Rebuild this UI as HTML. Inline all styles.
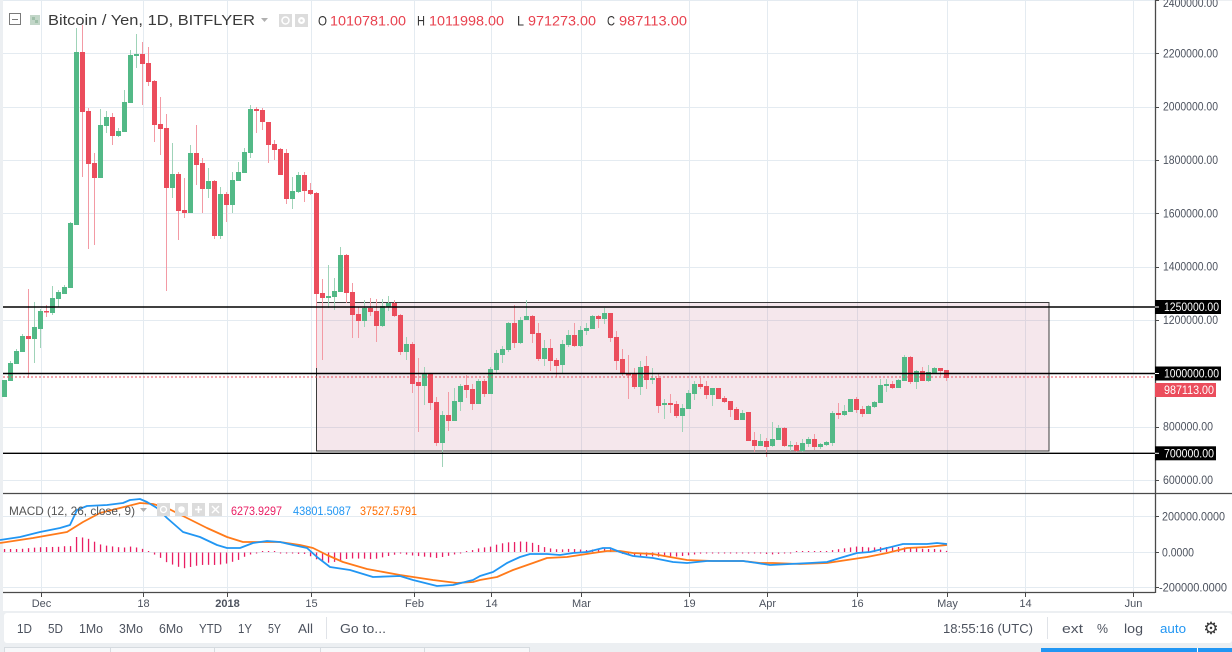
<!DOCTYPE html>
<html><head><meta charset="utf-8">
<style>
html,body{margin:0;padding:0;background:#eceff2;width:1232px;height:652px;overflow:hidden}
svg{display:block}
text{font-family:"Liberation Sans",sans-serif}
</style></head><body>
<svg id="s" width="1232" height="652" xmlns="http://www.w3.org/2000/svg"></svg>
<script>
var h='';
function R(x,y,w,hh,f,extra){h+='<rect x="'+x+'" y="'+y+'" width="'+w+'" height="'+hh+'" fill="'+f+'" '+(extra||'')+'/>';}
function L(x1,y1,x2,y2,s,w,extra){h+='<line x1="'+x1+'" y1="'+y1+'" x2="'+x2+'" y2="'+y2+'" stroke="'+s+'" stroke-width="'+(w||1)+'" '+(extra||'')+'/>';}
function T(x,y,t,size,fill,extra){h+='<text x="'+x+'" y="'+y+'" font-size="'+size+'" fill="'+fill+'" '+(extra||'')+'>'+t+'</text>';}

// backgrounds
R(0,0,1232,652,'#eceff2');
R(3,1,1229,610,'#ffffff');
R(4,613,1228,30,'#ffffff','rx="3"');
// bottom tabs
[[4,110],[110,214],[214,320],[320,424],[424,529]].forEach(function(t){R(t[0]+0.5,647.5,t[1]-t[0],8,'#f7f8fa','stroke="#d6dbe0" stroke-width="1"');});
R(1041,648,191,4,'#2196f3');
L(1197.5,648,1197.5,652,'#ffffff',1);

// vertical grid
var vx=[41,143,227,311,414,491,581,689,767,857,947,1025,1133];
vx.forEach(function(x){L(x+0.5,1,x+0.5,592,'#e4ebf1',1);});
// price horizontal grid
function py(p){return 480-(p-600000)*0.000266667;}
for(var p=600000;p<=2400000;p+=200000){var y=Math.round(py(p))+0.5;L(3,y,1155,y,'#e4ebf1',1);}
// macd grid
[516.5,552.5,587.5].forEach(function(y){L(3,y,1155,y,'#e4ebf1',1);});

// rectangle
R(316.5,302.5,732.5,148.5,'rgba(195,110,140,0.17)','stroke="#3c3c3c" stroke-width="1"');

// candles [type, bodyTop, bodyBot, wickTop, wickBot]
var C=[
['g',380,397,380,397],['g',363,381,361,381],['g',351,364,349,364],['g',336,352,334,352],['r',336,339,289,378],
['g',327,339,302,363],['g',311,329,309,348],['r',311,312,305,317],['g',298,313,286,315],['g',292,299,290,307],
['g',287,294,285,294],['g',223,288,222,288],['g',52,225,28,225],['r',52,112,25,177],['r',111,164,108,249],
['r',163,178,153,245],['g',125,178,109,178],['g',117,126,111,133],['r',117,136,113,145],['g',131,136,128,137],
['g',102,132,90,132],['g',55,103,50,103],['g',54,56,34,68],['r',54,64,42,105],['r',63,82,47,86],
['r',81,125,80,142],['r',124,129,97,155],['r',128,188,114,291],['g',174,188,143,198],['r',174,211,172,240],
['r',210,213,178,218],['g',153,213,145,213],['r',153,165,125,185],['r',163,189,158,213],['g',181,189,168,198],
['r',181,236,180,239],['g',194,236,187,239],['r',194,205,192,222],['g',180,205,172,213],['g',172,181,162,181],
['g',152,173,148,173],['g',109,153,105,158],['r',109,111,107,133],['r',110,122,108,130],['r',122,145,122,163],
['r',144,150,140,160],['r',149,175,148,175],['r',153,199,149,204],['g',191,199,177,209],['g',175,192,172,193],
['r',175,191,172,202],['r',190,194,183,195],['r',193,294,192,368],['r',293,298,279,360],['g',296,298,265,308],
['g',291,297,278,310],['g',255,292,247,292],['r',255,293,254,303],['r',292,315,283,338],['r',314,321,307,338],
['g',308,321,300,327],['r',308,312,298,316],['r',311,326,299,342],['g',306,326,299,327],['g',303,307,296,311],
['r',303,316,300,317],['r',315,352,314,355],['g',344,352,337,360],['r',344,384,342,393],['r',382,386,358,432],
['g',374,386,367,405],['r',374,403,374,410],['r',402,443,397,446],['g',415,443,411,467],['r',415,421,392,431],
['g',401,421,388,421],['g',386,402,384,411],['r',385,390,375,398],['r',389,404,384,410],['g',381,404,379,404],
['r',381,394,379,397],['g',369,394,367,394],['g',353,370,350,374],['g',349,355,346,363],['g',323,350,322,352],
['r',323,343,305,348],['g',320,343,317,344],['g',316,320,300,320],['r',316,334,315,343],['r',333,359,323,361],
['g',348,359,340,366],['r',348,361,339,371],['r',360,366,358,377],['g',344,365,340,373],['g',335,345,330,347],
['r',335,346,323,347],['g',330,346,326,347],['g',328,331,323,335],['g',316,329,315,329],['r',316,319,315,328],
['g',313,319,308,324],['r',313,338,313,342],['r',337,361,331,370],['r',359,374,349,376],['r',374,375,355,399],
['r',374,387,368,389],['g',367,387,361,395],['r',366,380,356,389],['g',378,380,368,384],['r',378,406,373,413],
['g',403,405,399,419],['r',403,405,394,413],['r',404,416,401,418],['g',408,416,404,432],['g',393,409,390,409],
['g',384,394,381,400],['r',384,387,378,389],['r',386,395,381,399],['g',388,395,388,406],['r',388,399,388,399],
['r',398,402,396,403],['r',401,410,401,417],['r',409,420,407,420],['g',413,420,410,420],['r',412,441,412,441],
['r',440,446,432,452],['g',441,446,434,446],['r',441,447,438,457],['g',439,446,422,447],['g',428,440,425,440],
['r',428,446,427,447],['g',445,446,441,451],['r',445,451,442,452],['g',443,451,439,452],['g',439,444,437,447],
['r',439,447,434,450],['g',444,447,443,449],['g',442,445,441,446],['g',413,443,411,446],['r',413,415,403,419],
['g',411,415,405,416],['g',399,412,399,412],['r',399,410,397,413],['r',409,414,406,417],['g',406,414,405,414],
['g',402,407,401,408],['g',385,403,379,403],['g',384,386,379,392],['r',384,388,381,389],['g',380,388,379,388],
['g',357,381,355,381],['r',357,382,356,384],['g',371,382,370,389],['r',371,381,367,381],['g',372,381,365,382],
['g',368,373,367,373],['r',368,371,368,376],['r',370,378,370,381]
];
C.forEach(function(c,i){
  var x=2+6*i;
  var col=c[0]=='g'?'#53b987':'#eb4d5c';
  var wc=c[0]=='g'?'#9fd3b8':'#f39aa4';
  if(c[4]>c[3]) R(x+2,c[3],1,c[4]-c[3],wc);
  R(x,c[1],5,Math.max(1.5,c[2]-c[1]),col);
});

// horizontal levels
[307,373.5,453.3].forEach(function(y){L(3,y,1155,y,'#000000',1.4);});
L(3,377,1155,377,'#eb4d5c',1,'stroke-dasharray="2,2"');

// MACD
var B=[[0,540],[20,537],[40,532],[60,528],[70,525],[77,510],[87,506],[107,505],[123,503],[130,500],[140,499],[147,502],[157,508],[167,518],[183,532],[200,537],[217,545],[227,548],[240,548],[253,543],[267,541],[280,542],[293,545],[307,548],[317,557],[330,567],[350,570],[373,577],[400,576],[413,580],[437,586],[453,585],[473,580],[480,576],[493,572],[507,563],[520,557],[530,554],[547,554],[560,555],[573,553],[587,552],[603,548],[610,548],[620,552],[633,556],[653,558],[673,562],[687,563],[707,561],[720,561],[743,561],[757,563],[770,565],[790,564],[810,563],[827,562],[840,558],[857,553],[870,552],[887,548],[903,544],[927,544],[937,543],[947,544]];
var O=[[0,543],[33,538],[67,532],[83,522],[100,513],[120,508],[140,503],[153,504],[167,508],[187,518],[207,528],[227,537],[243,542],[260,542],[280,542],[300,545],[313,548],[327,555],[343,562],[367,569],[400,575],[433,580],[457,583],[473,582],[480,580],[497,577],[513,570],[533,563],[547,558],[567,557],[580,555],[593,553],[607,551],[620,551],[633,553],[653,554],[670,557],[687,560],[713,561],[743,561],[760,563],[773,563],[800,564],[827,563],[847,560],[867,557],[887,553],[907,548],[927,547],[947,545]];
function ip(P,x){for(var k=0;k<P.length-1;k++){if(x>=P[k][0]&&x<=P[k+1][0]){var t=(x-P[k][0])/(P[k+1][0]-P[k][0]);return P[k][1]+t*(P[k+1][1]-P[k][1]);}}return P[P.length-1][1];}
for(var i=0;i<158;i++){
  var cx=4.5+6*i;var d=ip(B,cx)-ip(O,cx);
  var hgt=Math.max(1,Math.abs(d));
  if(d<0) R(cx-0.6,552-hgt,1.3,hgt,'#e91e63'); else R(cx-0.6,552.5,1.3,hgt,'#e91e63');
}
function poly(P,c){h+='<polyline fill="none" stroke="'+c+'" stroke-width="1.8" stroke-linejoin="round" points="'+P.map(function(p){return p[0]+','+p[1];}).join(' ')+'"/>';}
poly(O,'#ff7a1a');
poly(B,'#2196f3');

// separators & axis
L(3,493.5,1232,493.5,'#4a4a4a',1.3);
L(3,592.5,1155,592.5,'#4a4a4a',1.3);
L(1155.5,0,1155.5,593,'#4a4a4a',1.3);

// price axis labels
var pl=[[2400000,'2400000.00',7],[2200000,'2200000.00'],[2000000,'2000000.00'],[1800000,'1800000.00'],[1600000,'1600000.00'],[1400000,'1400000.00'],[1200000,'1200000.00'],[800000,'800000.00'],[600000,'600000.00']];
pl.forEach(function(a){var y=py(a[0]);L(1155,Math.round(y)+0.5,1159,Math.round(y)+0.5,'#4a4a4a',1);
  var tl=a[1].length==10?55:50;T(1163,(a[2]||y+4),a[1],11.5,'#4c525e','textLength="'+tl+'" lengthAdjust="spacingAndGlyphs"');});
// macd axis labels
[[516.5,'200000.0000',63,1162],[552.5,'0.0000',32,1162],[587.5,'-200000.0000',68,1159]].forEach(function(a){
  L(1155,a[0],1159,a[0],'#4a4a4a',1);T(a[3],a[0]+4,a[1],11.5,'#4c525e','textLength="'+a[2]+'" lengthAdjust="spacingAndGlyphs"');});
// black labels
[[307,'1250000.00'],[373.5,'1000000.00'],[453.3,'700000.00']].forEach(function(a){
  R(1155,a[0]-7,a[1].length==10?66:61,14,'#000000');L(1155,a[0],1159,a[0],'#ffffff',1);
  T(1164,a[0]+4.2,a[1],12,'#ffffff','textLength="'+(a[1].length==10?55:50)+'" lengthAdjust="spacingAndGlyphs"');});
R(1155,383,61,14,'#eb4d5c');
T(1164,394.2,'987113.00',12,'#ffffff','textLength="50" lengthAdjust="spacingAndGlyphs"');

// time labels
[[41,'Dec'],[143,'18'],[227,'2018',1],[311,'15'],[414,'Feb'],[491,'14'],[581,'Mar'],[689,'19'],[767,'Apr'],[857,'16'],[947,'May'],[1025,'14'],[1133,'Jun']].forEach(function(a){
  L(a[0]+0.5,593,a[0]+0.5,597,'#4a4a4a',1);
  T(a[0]+0.5,607,a[1],11,'#4c525e','text-anchor="middle"'+(a[2]?' font-weight="bold"':''));});

// header
R(9.5,13.5,11,11,'#ffffff','stroke="#7a7a7a" stroke-width="1"');
L(12,19.5,18,19.5,'#7a7a7a',1);
R(30,15,10,10,'#c2d6c8');
R(32,17,3,3,'#9fbfa9');R(35,20,3,3,'#9fbfa9');
T(48,25,'Bitcoin / Yen, 1D, BITFLYER',15,'#3a3a3a','textLength="207" lengthAdjust="spacingAndGlyphs"');
h+='<polygon points="261,18 268,18 264.5,22" fill="#b0b0b0"/>';
R(279,14,13,13,'#dcdcdc');R(295,14,13,13,'#dcdcdc');
h+='<circle cx="285.5" cy="20.5" r="3.5" fill="none" stroke="#fff" stroke-width="1.5"/>';
h+='<circle cx="301.5" cy="20.5" r="3.5" fill="#fff"/><circle cx="301.5" cy="20.5" r="1.3" fill="#dcdcdc"/>';
T(318,25.5,'O',14,'#333','textLength="9" lengthAdjust="spacingAndGlyphs"');
T(330,25.5,'1010781.00',14,'#e8414e','textLength="76" lengthAdjust="spacingAndGlyphs"');
T(417,25.5,'H',14,'#333','textLength="8" lengthAdjust="spacingAndGlyphs"');
T(429,25.5,'1011998.00',14,'#e8414e','textLength="75" lengthAdjust="spacingAndGlyphs"');
T(517,25.5,'L',14,'#333','textLength="7" lengthAdjust="spacingAndGlyphs"');
T(528,25.5,'971273.00',14,'#e8414e','textLength="68" lengthAdjust="spacingAndGlyphs"');
T(607,25.5,'C',14,'#333','textLength="8" lengthAdjust="spacingAndGlyphs"');
T(619,25.5,'987113.00',14,'#e8414e','textLength="68" lengthAdjust="spacingAndGlyphs"');

// MACD header
T(9,515,'MACD (12, 26, close, 9)',12,'#555','textLength="126" lengthAdjust="spacingAndGlyphs"');
h+='<polygon points="140,508 147,508 143.5,512" fill="#b0b0b0"/>';
[157,175,192,209].forEach(function(x){R(x,503,13,13,'#dcdcdc');});
h+='<circle cx="163.5" cy="509.5" r="3" fill="none" stroke="#fff" stroke-width="1.3"/>';
h+='<circle cx="181.5" cy="509.5" r="3.3" fill="#fff"/>';
L(195,509.5,202,509.5,'#fff',1.6);L(198.5,506,198.5,513,'#fff',1.6);
L(212,506,219,513,'#fff',1.4);L(219,506,212,513,'#fff',1.4);
T(231,515,'6273.9297',12,'#e91e63','textLength="51" lengthAdjust="spacingAndGlyphs"');
T(293,515,'43801.5087',12,'#2196f3','textLength="58" lengthAdjust="spacingAndGlyphs"');
T(360,515,'37527.5791',12,'#ff6d00','textLength="57" lengthAdjust="spacingAndGlyphs"');

// toolbar
var tb=[[17,'1D',15],[48,'5D',15],[79,'1Mo',24],[119,'3Mo',24],[159,'6Mo',24],[199,'YTD',23],[238,'1Y',14],[268,'5Y',13],[298,'All',15],[340,'Go to...',46],[943,'18:55:16 (UTC)',90],[1062,'ext',21],[1097,'%',11],[1124,'log',19]];
tb.forEach(function(a){T(a[0],633,a[1],13,'#4c525e','textLength="'+a[2]+'" lengthAdjust="spacingAndGlyphs"');});
T(1160,633,'auto',13,'#2196f3','textLength="26" lengthAdjust="spacingAndGlyphs"');
L(326.5,617,326.5,639,'#e0e3e8',1);
L(1047.5,617,1047.5,639,'#e0e3e8',1);
h+='<text x="1211" y="634" font-size="17" fill="#333" text-anchor="middle" style="font-family:\'DejaVu Sans\',sans-serif">\u2699</text>';

document.getElementById('s').innerHTML=h;
</script>
</body></html>
